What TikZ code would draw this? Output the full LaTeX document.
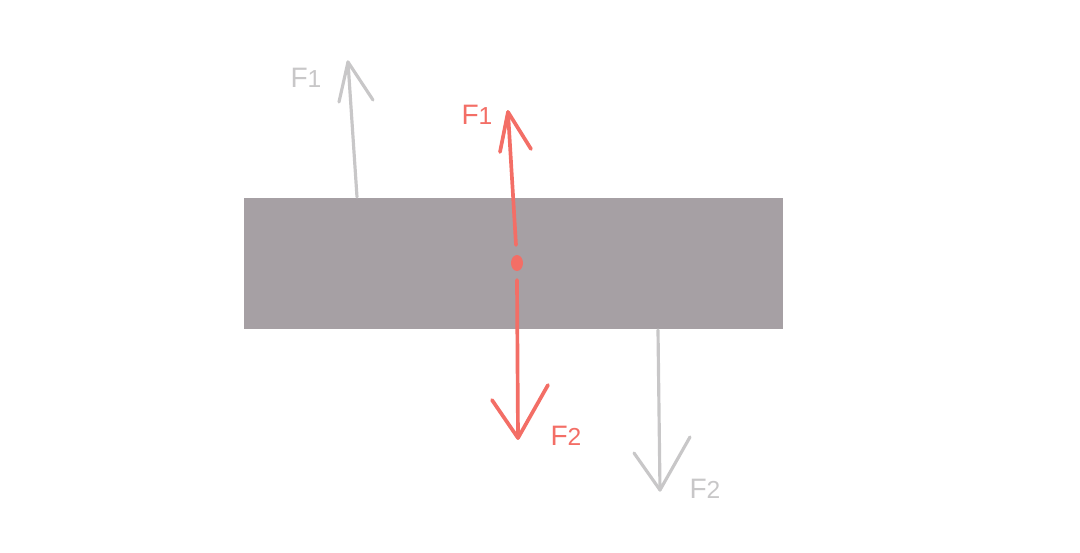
\documentclass[tikz,border=0pt]{standalone}
\usepackage{fontspec}
\usetikzlibrary{shapes.geometric}
\setmainfont{Liberation Sans}
\definecolor{barfill}{RGB}{166,160,164}
\definecolor{ghost}{RGB}{200,199,200}
\definecolor{force}{RGB}{243,110,102}
\tikzset{
  bar/.style={fill=barfill, draw=none},
  ghostline/.style={draw=ghost, line width=1.8pt, line cap=round, line join=round},
  forceline/.style={draw=force, line width=2.1pt, line cap=round, line join=round},
  lbl/.style={inner sep=0pt, font=\fontsize{16}{16}\selectfont},
}
\newcommand{\flabel}[1]{F{\fontsize{14}{14}\selectfont #1}}
\begin{document}
\begin{tikzpicture}[x=0.02cm, y=-0.02cm]
\useasboundingbox (0,0) rectangle (1080,552);
% body
\node[bar, minimum width=539*0.02cm, minimum height=131*0.02cm, inner sep=0pt, anchor=north west] (body) at (244,198) {};
% grey F1 (up)
\coordinate (g1s) at (357,197);
\coordinate (g1t) at (348,62);
\coordinate (g1l) at (339,102);
\coordinate (g1r) at (373,100);
\draw[ghostline] (g1s) -- (g1t);
\draw[ghostline] (g1l) -- (g1t) -- (g1r);
\node[lbl, text=ghost] (g1lab) at (306,78) {\flabel{1}};
% grey F2 (down)
\coordinate (g2s) at (658,330);
\coordinate (g2t) at (660,490);
\coordinate (g2l) at (634,453);
\coordinate (g2r) at (690,437);
\draw[ghostline] (g2s) -- (g2t);
\draw[ghostline] (g2l) -- (g2t) -- (g2r);
\node[lbl, text=ghost] (g2lab) at (705,489) {\flabel{2}};
% red dot
\node[ellipse, fill=force, minimum width=12*0.02cm, minimum height=16*0.02cm, inner sep=0pt] (dot) at (517,263) {};
% red F1 (up)
\coordinate (r1s) at (516,245);
\coordinate (r1t) at (508,112);
\coordinate (r1l) at (500,152);
\coordinate (r1r) at (531,149);
\draw[forceline] (r1s) -- (r1t);
\draw[forceline] (r1l) -- (r1t) -- (r1r);
\node[lbl, text=force] (r1lab) at (477,115) {\flabel{1}};
% red F2 (down)
\coordinate (r2s) at (517,280);
\coordinate (r2t) at (518,438);
\coordinate (r2l) at (492,400);
\coordinate (r2r) at (548,385);
\draw[forceline] (r2s) -- (r2t);
\draw[forceline] (r2l) -- (r2t) -- (r2r);
\node[lbl, text=force] (r2lab) at (566,436) {\flabel{2}};
\end{tikzpicture}
\end{document}
